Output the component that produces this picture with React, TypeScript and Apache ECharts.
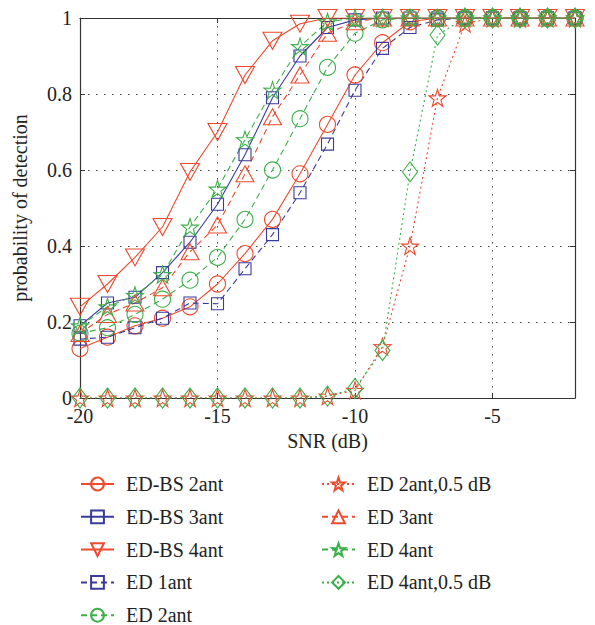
import React, { useEffect, useRef } from "react";
import * as echarts from "echarts";

const snr = [-20, -19, -18, -17, -16, -15, -14, -13, -12, -11, -10, -9, -8, -7, -6, -5, -4, -3, -2];
const edbs2ant = [0.13, 0.16, 0.19, 0.21, 0.24, 0.3, 0.38, 0.47, 0.59, 0.72, 0.85, 0.935, 0.99, 1, 1, 1, 1, 1, 1];
const edbs3ant = [0.19, 0.25, 0.265, 0.33, 0.41, 0.51, 0.64, 0.79, 0.9, 0.975, 0.995, 1, 1, 1, 1, 1, 1, 1, 1];
const edbs4ant = [0.24, 0.3, 0.37, 0.45, 0.595, 0.7, 0.85, 0.94, 0.985, 1, 1, 1, 1, 1, 1, 1, 1, 1, 1];
const ed1ant = [0.155, 0.16, 0.185, 0.21, 0.25, 0.248, 0.34, 0.43, 0.54, 0.668, 0.81, 0.92, 0.975, 0.995, 1, 1, 1, 1, 1];
const ed2ant = [0.17, 0.185, 0.22, 0.26, 0.31, 0.37, 0.47, 0.6, 0.735, 0.87, 0.96, 0.995, 1, 1, 1, 1, 1, 1, 1];
const ed2ant05 = [0, 0, 0, 0, 0, 0, 0, 0, 0, 0.005, 0.02, 0.135, 0.4, 0.79, 0.985, 1, 1, 1, 1];
const ed3ant = [0.17, 0.22, 0.25, 0.29, 0.385, 0.455, 0.59, 0.74, 0.85, 0.96, 0.99, 1, 1, 1, 1, 1, 1, 1, 1];
const ed4ant = [0.19, 0.24, 0.27, 0.325, 0.45, 0.55, 0.68, 0.81, 0.925, 0.99, 1, 1, 1, 1, 1, 1, 1, 1, 1];
const ed4ant05 = [0, 0, 0, 0, 0, 0, 0, 0, 0, 0.005, 0.025, 0.125, 0.595, 0.955, 1, 1, 1, 1, 1];

const leftNames = ["ED-BS 2ant", "ED-BS 3ant", "ED-BS 4ant", "ED 1ant", "ED 2ant"];
const rightNames = ["ED 2ant,0.5 dB", "ED 3ant", "ED 4ant", "ED 4ant,0.5 dB"];

const RED = "#ef4a2e";
const BLUE = "#3a3a9c";
const GREEN = "#3cb04a";
const FONT = "Liberation Serif";
const FS = 20;

const STAR = "path://M50,0 L61.8,35.1 L97.6,34.5 L69.1,56.7 L79.4,90.5 L50,70 L20.6,90.5 L30.9,56.7 L2.4,34.5 L38.2,35.1 Z";
const DOWN_TRI = "path://M0,0 L100,0 L50,86.6 Z";

echarts.registerTheme("serifTheme", {
  textStyle: { fontFamily: FONT },
  legend: { textStyle: { fontFamily: FONT } },
  valueAxis: { axisLabel: { fontFamily: FONT }, nameTextStyle: { fontFamily: FONT } },
});

function mk(name: string, values: number[], color: string, lineType: any, symbol: string, size: any) {
  return {
    name,
    type: "line",
    data: snr.map((x, i) => [x, values[i]]),
    symbol,
    symbolSize: size,
    showSymbol: true,
    lineStyle: { color, width: 1.1, type: lineType },
    itemStyle: { color: "transparent", borderColor: color, borderWidth: 1.1 },
    emphasis: { disabled: true },
  };
}

export default function App() {
  const ref = useRef<HTMLDivElement>(null);
  useEffect(() => {
    if (!ref.current) return;
    const chart = echarts.init(ref.current, "serifTheme", { renderer: "svg" });
    const dashed = [6, 4];
    const dotted = [2, 3];
    const txt = { fontFamily: FONT, fontSize: FS, color: "#222" };
    const legendCommon = {
      orient: "vertical",
      top: 474,
      padding: 0,
      height: 400,
      itemWidth: 33,
      itemHeight: 16,
      itemGap: 12.8,
      iconRotate: "inherit",
      textStyle: { ...txt, padding: [0, 0, 0, 7] },
      selectedMode: false,
    };
    chart.setOption({
      animation: false,
      backgroundColor: "#fff",
      textStyle: { fontFamily: FONT },
      grid: { left: 80, right: 20, top: 18, bottom: 227, show: false },
      legend: [
        { ...legendCommon, left: 80, data: leftNames },
        { ...legendCommon, left: 321, data: rightNames },
      ],
      xAxis: [
        {
          type: "value",
          min: -20,
          max: -2,
          interval: 5,
          name: "SNR (dB)",
          nameLocation: "middle",
          nameGap: 29,
          nameTextStyle: txt,
          axisLine: { show: true, onZero: false, lineStyle: { color: "#333", width: 1.2 } },
          axisTick: { show: true, inside: true, length: 5, lineStyle: { color: "#333" } },
          axisLabel: { ...txt, margin: 8, showMaxLabel: false },
          splitLine: { show: true, lineStyle: { color: "#444", type: [1.5, 6.5], width: 1 } },
        },
        {
          type: "value",
          position: "top",
          min: -20,
          max: -2,
          interval: 5,
          axisLine: { show: true, onZero: false, lineStyle: { color: "#333", width: 1.2 } },
          axisTick: { show: true, inside: true, length: 5, lineStyle: { color: "#333" } },
          axisLabel: { show: false },
          splitLine: { show: false },
        },
      ],
      yAxis: [
        {
          type: "value",
          min: 0,
          max: 1,
          interval: 0.2,
          name: "probability of detection",
          nameLocation: "middle",
          nameGap: 50,
          nameTextStyle: txt,
          axisLine: { show: true, onZero: false, lineStyle: { color: "#333", width: 1.2 } },
          axisTick: { show: true, inside: true, length: 5, lineStyle: { color: "#333" } },
          axisLabel: { ...txt, margin: 8 },
          splitLine: { show: true, lineStyle: { color: "#444", type: [1.5, 6.5], width: 1 } },
        },
        {
          type: "value",
          position: "right",
          min: 0,
          max: 1,
          interval: 0.2,
          axisLine: { show: true, onZero: false, lineStyle: { color: "#333", width: 1.2 } },
          axisTick: { show: true, inside: true, length: 5, lineStyle: { color: "#333" } },
          axisLabel: { show: false },
          splitLine: { show: false },
        },
      ],
      series: [
        mk("ED-BS 2ant", edbs2ant, RED, "solid", "circle", 16),
        mk("ED-BS 3ant", edbs3ant, BLUE, "solid", "rect", 12),
        mk("ED-BS 4ant", edbs4ant, RED, "solid", DOWN_TRI, [19, 17]),
        mk("ED 1ant", ed1ant, BLUE, dashed, "rect", 12),
        mk("ED 2ant", ed2ant, GREEN, dashed, "circle", 16),
        mk("ED 2ant,0.5 dB", ed2ant05, RED, dotted, STAR, 17),
        mk("ED 3ant", ed3ant, RED, dashed, "triangle", [18, 16]),
        mk("ED 4ant", ed4ant, GREEN, dashed, STAR, 17),
        mk("ED 4ant,0.5 dB", ed4ant05, GREEN, dotted, "diamond", [15, 20]),
      ],
    });
    return () => chart.dispose();
  }, []);
  return <div ref={ref} style={{ position: "fixed", left: 0, top: 0, width: 595, height: 625, background: "#fff" }} />;
}
